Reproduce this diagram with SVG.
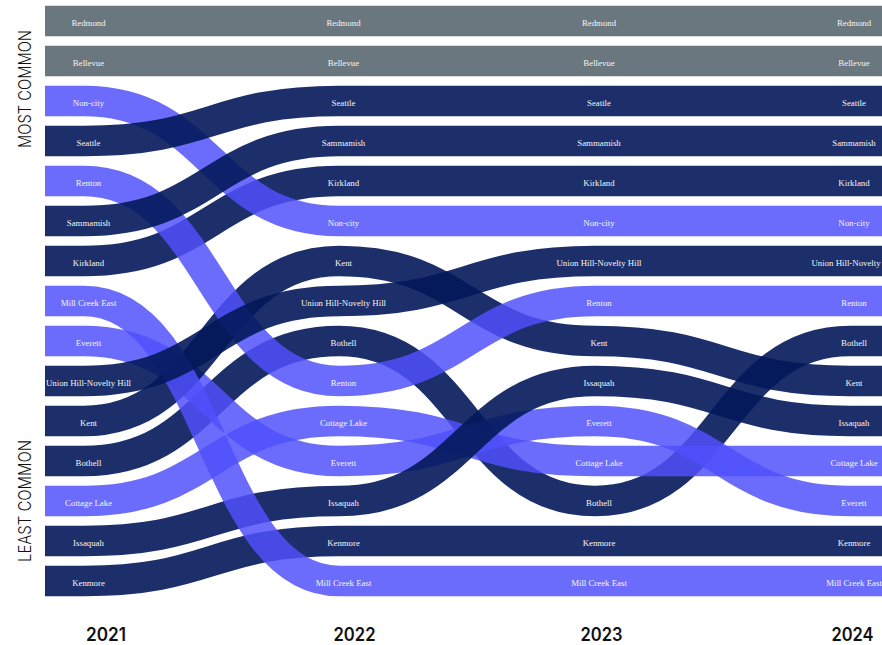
<svg xmlns="http://www.w3.org/2000/svg" width="882" height="645" viewBox="0 0 882 645">
<style>
.rb{fill:none;stroke-width:30.6;stroke-linecap:butt}
.g{stroke:#6b777f}
.n{stroke:#03185a;stroke-opacity:0.9}
.p{stroke:#5050fb;stroke-opacity:0.84}
.lb{font-family:"Liberation Serif","Times New Roman",serif;font-size:8.8px;fill:#f4f4f4;text-anchor:middle}
.yr{font-family:Inter,"Liberation Sans",sans-serif;font-weight:600;font-size:18px;fill:#111;text-anchor:middle}
.ax{font-family:Inter,"Liberation Sans",sans-serif;font-weight:300;font-size:17px;fill:#111;text-anchor:middle}
</style>
<rect width="882" height="645" fill="#ffffff"/>
<g id="connectors">
<path class="rb g" d="M45,21 H882"/>
<path class="rb g" d="M45,61 H882"/>
<path class="rb n" d="M45,461 H84 C211.5,461 211.5,341 339,341 C467,341 467,501 595,501 C722.5,501 722.5,341 850,341 H882"/>
<path class="rb p" d="M45,501 H84 C211.5,501 211.5,421 339,421 C467,421 467,461 595,461 C722.5,461 722.5,461 850,461 H882"/>
<path class="rb p" d="M45,341 H84 C211.5,341 211.5,461 339,461 C467,461 467,421 595,421 C722.5,421 722.5,501 850,501 H882"/>
<path class="rb n" d="M45,541 H84 C211.5,541 211.5,501 339,501 C467,501 467,381 595,381 C722.5,381 722.5,421 850,421 H882"/>
<path class="rb n" d="M45,581 H84 C211.5,581 211.5,541 339,541 C467,541 467,541 595,541 C722.5,541 722.5,541 850,541 H882"/>
<path class="rb n" d="M45,421 H84 C211.5,421 211.5,261 339,261 C467,261 467,341 595,341 C722.5,341 722.5,381 850,381 H882"/>
<path class="rb n" d="M45,261 H84 C211.5,261 211.5,181 339,181 C467,181 467,181 595,181 C722.5,181 722.5,181 850,181 H882"/>
<path class="rb p" d="M45,301 H84 C211.5,301 211.5,581 339,581 C467,581 467,581 595,581 C722.5,581 722.5,581 850,581 H882"/>
<path class="rb p" d="M45,101 H84 C211.5,101 211.5,221 339,221 C467,221 467,221 595,221 C722.5,221 722.5,221 850,221 H882"/>
<path class="rb p" d="M45,181 H84 C211.5,181 211.5,381 339,381 C467,381 467,301 595,301 C722.5,301 722.5,301 850,301 H882"/>
<path class="rb n" d="M45,221 H84 C211.5,221 211.5,141 339,141 C467,141 467,141 595,141 C722.5,141 722.5,141 850,141 H882"/>
<path class="rb n" d="M45,141 H84 C211.5,141 211.5,101 339,101 C467,101 467,101 595,101 C722.5,101 722.5,101 850,101 H882"/>
<path class="rb n" d="M45,381 H84 C211.5,381 211.5,301 339,301 C467,301 467,261 595,261 C722.5,261 722.5,261 850,261 H882"/>
</g>
<g id="redmond" class="lb"><text x="88.5" y="25.5">Redmond</text><text x="343.5" y="25.5">Redmond</text><text x="599" y="25.5">Redmond</text><text x="854" y="25.5">Redmond</text></g>
<g id="bellevue" class="lb"><text x="88.5" y="65.5">Bellevue</text><text x="343.5" y="65.5">Bellevue</text><text x="599" y="65.5">Bellevue</text><text x="854" y="65.5">Bellevue</text></g>
<g id="non-city" class="lb"><text x="88.5" y="105.5">Non-city</text><text x="343.5" y="225.5">Non-city</text><text x="599" y="225.5">Non-city</text><text x="854" y="225.5">Non-city</text></g>
<g id="seattle" class="lb"><text x="88.5" y="145.5">Seattle</text><text x="343.5" y="105.5">Seattle</text><text x="599" y="105.5">Seattle</text><text x="854" y="105.5">Seattle</text></g>
<g id="renton" class="lb"><text x="88.5" y="185.5">Renton</text><text x="343.5" y="385.5">Renton</text><text x="599" y="305.5">Renton</text><text x="854" y="305.5">Renton</text></g>
<g id="sammamish" class="lb"><text x="88.5" y="225.5">Sammamish</text><text x="343.5" y="145.5">Sammamish</text><text x="599" y="145.5">Sammamish</text><text x="854" y="145.5">Sammamish</text></g>
<g id="kirkland" class="lb"><text x="88.5" y="265.5">Kirkland</text><text x="343.5" y="185.5">Kirkland</text><text x="599" y="185.5">Kirkland</text><text x="854" y="185.5">Kirkland</text></g>
<g id="mill-creek-east" class="lb"><text x="88.5" y="305.5">Mill Creek East</text><text x="343.5" y="585.5">Mill Creek East</text><text x="599" y="585.5">Mill Creek East</text><text x="854" y="585.5">Mill Creek East</text></g>
<g id="everett" class="lb"><text x="88.5" y="345.5">Everett</text><text x="343.5" y="465.5">Everett</text><text x="599" y="425.5">Everett</text><text x="854" y="505.5">Everett</text></g>
<g id="union-hill" class="lb"><text x="88.5" y="385.5">Union Hill-Novelty Hill</text><text x="343.5" y="305.5">Union Hill-Novelty Hill</text><text x="599" y="265.5">Union Hill-Novelty Hill</text><text x="854" y="265.5">Union Hill-Novelty Hill</text></g>
<g id="kent" class="lb"><text x="88.5" y="425.5">Kent</text><text x="343.5" y="265.5">Kent</text><text x="599" y="345.5">Kent</text><text x="854" y="385.5">Kent</text></g>
<g id="bothell" class="lb"><text x="88.5" y="465.5">Bothell</text><text x="343.5" y="345.5">Bothell</text><text x="599" y="505.5">Bothell</text><text x="854" y="345.5">Bothell</text></g>
<g id="cottage-lake" class="lb"><text x="88.5" y="505.5">Cottage Lake</text><text x="343.5" y="425.5">Cottage Lake</text><text x="599" y="465.5">Cottage Lake</text><text x="854" y="465.5">Cottage Lake</text></g>
<g id="issaquah" class="lb"><text x="88.5" y="545.5">Issaquah</text><text x="343.5" y="505.5">Issaquah</text><text x="599" y="385.5">Issaquah</text><text x="854" y="425.5">Issaquah</text></g>
<g id="kenmore" class="lb"><text x="88.5" y="585.5">Kenmore</text><text x="343.5" y="545.5">Kenmore</text><text x="599" y="545.5">Kenmore</text><text x="854" y="545.5">Kenmore</text></g>
<g id="axis">
<text class="ax" transform="translate(30.5,89) rotate(-90)" textLength="118" lengthAdjust="spacingAndGlyphs">MOST COMMON</text>
<text class="ax" transform="translate(30.5,501) rotate(-90)" textLength="122" lengthAdjust="spacingAndGlyphs">LEAST COMMON</text>
<text class="yr" x="106" y="641" textLength="40" lengthAdjust="spacingAndGlyphs">2021</text>
<text class="yr" x="354.5" y="641" textLength="42" lengthAdjust="spacingAndGlyphs">2022</text>
<text class="yr" x="601.5" y="641" textLength="42" lengthAdjust="spacingAndGlyphs">2023</text>
<text class="yr" x="852.5" y="641" textLength="42" lengthAdjust="spacingAndGlyphs">2024</text>
</g>
</svg>
